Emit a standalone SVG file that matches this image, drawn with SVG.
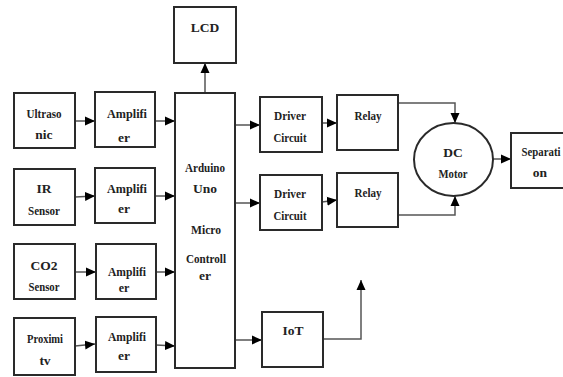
<svg xmlns="http://www.w3.org/2000/svg" width="563" height="377" viewBox="0 0 563 377">
<style>
.box{fill:#fff;stroke:#2a2a2a;stroke-width:2}
.t{font-family:'Liberation Serif','Times New Roman',serif;font-weight:700;font-size:13.5px;fill:#222;text-anchor:middle}
.c{fill:none;stroke:#555;stroke-width:1.5}
</style>
<defs>
<marker id="a" markerUnits="userSpaceOnUse" markerWidth="10" markerHeight="10" refX="10" refY="5" orient="auto">
<path d="M0,0.5 L10,5 L0,9.5 z" fill="#000"/>
</marker>
</defs>
<rect width="563" height="377" fill="#fff"/>
<g id="connectors">
<path class="c" d="M75,121 H95" marker-end="url(#a)"/>
<path class="c" d="M155,121 H175" marker-end="url(#a)"/>
<path class="c" d="M75,197 L95,196" marker-end="url(#a)"/>
<path class="c" d="M155,196 H175" marker-end="url(#a)"/>
<path class="c" d="M75,272 H96" marker-end="url(#a)"/>
<path class="c" d="M156,272 H175" marker-end="url(#a)"/>
<path class="c" d="M75,346 L95,344" marker-end="url(#a)"/>
<path class="c" d="M156,345 L175,346" marker-end="url(#a)"/>
<path class="c" d="M205,93 V63" marker-end="url(#a)"/>
<path class="c" d="M235,125 H260" marker-end="url(#a)"/>
<path class="c" d="M235,203 H260" marker-end="url(#a)"/>
<path class="c" d="M235,340 H262" marker-end="url(#a)"/>
<path class="c" d="M322,123 H337" marker-end="url(#a)"/>
<path class="c" d="M322,202 L337,200" marker-end="url(#a)"/>
<path class="c" d="M398,103 H455 V123" marker-end="url(#a)"/>
<path class="c" d="M398,215 H455 V196" marker-end="url(#a)"/>
<path class="c" d="M493,159 H511" marker-end="url(#a)"/>
<path class="c" d="M323,339 H361 V280" marker-end="url(#a)"/>
</g>
<g id="ultrasonic"><rect class="box" x="14" y="93" width="61" height="55"/><text class="t" x="44" y="118" textLength="35" lengthAdjust="spacingAndGlyphs">Ultraso</text><text class="t" x="44" y="139">nic</text></g>
<g id="amp1"><rect class="box" x="95" y="92" width="60" height="55"/><text class="t" x="127" y="118" textLength="40" lengthAdjust="spacingAndGlyphs">Amplifi</text><text class="t" x="124" y="142">er</text></g>
<g id="ir"><rect class="box" x="14" y="169" width="61" height="56"/><text class="t" x="44" y="193">IR</text><text class="t" x="44" y="215" textLength="32" lengthAdjust="spacingAndGlyphs">Sensor</text></g>
<g id="amp2"><rect class="box" x="95" y="168" width="60" height="55"/><text class="t" x="127" y="193" textLength="40" lengthAdjust="spacingAndGlyphs">Amplifi</text><text class="t" x="124" y="213">er</text></g>
<g id="co2"><rect class="box" x="14" y="244" width="61" height="55"/><text class="t" x="44" y="270">CO2</text><text class="t" x="44" y="291" style="font-size:12px" textLength="31" lengthAdjust="spacingAndGlyphs">Sensor</text></g>
<g id="amp3"><rect class="box" x="96" y="244" width="60" height="55"/><text class="t" x="127" y="276" textLength="38" lengthAdjust="spacingAndGlyphs">Amplifi</text><text class="t" x="124" y="292" style="font-size:12px">er</text></g>
<g id="proximity"><rect class="box" x="14" y="318" width="61" height="57"/><text class="t" x="45" y="343" textLength="36" lengthAdjust="spacingAndGlyphs">Proximi</text><text class="t" x="45" y="365">tv</text></g>
<g id="amp4"><rect class="box" x="96" y="317" width="60" height="55"/><text class="t" x="127" y="341" textLength="38" lengthAdjust="spacingAndGlyphs">Amplifi</text><text class="t" x="124" y="360">er</text></g>
<g id="arduino"><rect class="box" x="175" y="93" width="60" height="275"/>
<text class="t" x="205" y="172" textLength="40" lengthAdjust="spacingAndGlyphs">Arduino</text>
<text class="t" x="205" y="193">Uno</text>
<text class="t" x="206" y="234" textLength="30" lengthAdjust="spacingAndGlyphs">Micro</text>
<text class="t" x="206" y="263" textLength="40" lengthAdjust="spacingAndGlyphs">Controll</text>
<text class="t" x="205" y="280">er</text></g>
<g id="lcd"><rect class="box" x="174" y="7" width="62" height="56"/><text class="t" x="205" y="32">LCD</text></g>
<g id="driver1"><rect class="box" x="260" y="97" width="62" height="55"/><text class="t" x="290" y="120" textLength="32" lengthAdjust="spacingAndGlyphs">Driver</text><text class="t" x="290" y="142" textLength="33" lengthAdjust="spacingAndGlyphs">Circuit</text></g>
<g id="driver2"><rect class="box" x="260" y="175" width="62" height="55"/><text class="t" x="290" y="198" textLength="32" lengthAdjust="spacingAndGlyphs">Driver</text><text class="t" x="290" y="220" textLength="33" lengthAdjust="spacingAndGlyphs">Circuit</text></g>
<g id="iot"><rect class="box" x="262" y="312" width="61" height="55"/><text class="t" x="293" y="335">IoT</text></g>
<g id="relay1"><rect class="box" x="337" y="95" width="61" height="55"/><text class="t" x="368" y="120" textLength="27" lengthAdjust="spacingAndGlyphs">Relay</text></g>
<g id="relay2"><rect class="box" x="337" y="173" width="61" height="54"/><text class="t" x="368" y="197" textLength="27" lengthAdjust="spacingAndGlyphs">Relay</text></g>
<g id="motor"><ellipse class="box" cx="453.5" cy="159.5" rx="39.5" ry="36.5"/><text class="t" x="453" y="157">DC</text><text class="t" x="453" y="178" textLength="29" lengthAdjust="spacingAndGlyphs">Motor</text></g>
<g id="separation"><rect class="box" x="511" y="133" width="62" height="55"/><text class="t" x="541" y="156" textLength="39" lengthAdjust="spacingAndGlyphs">Separati</text><text class="t" x="540" y="177">on</text></g>
</svg>
